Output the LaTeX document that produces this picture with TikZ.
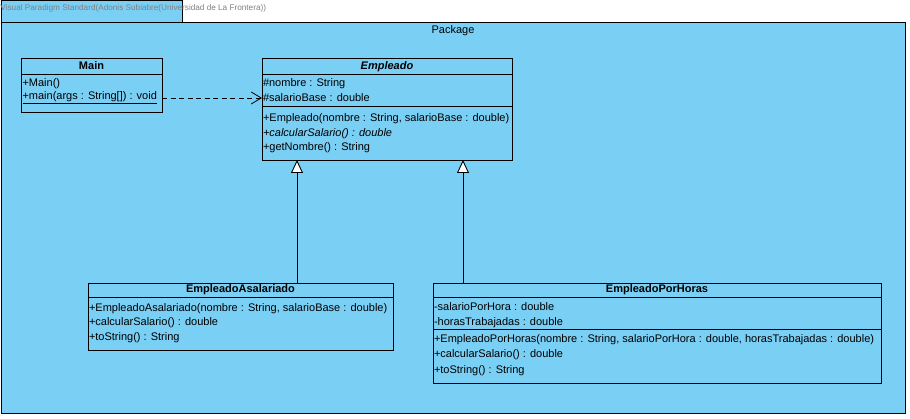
\documentclass[tikz,border=0pt]{standalone}
\usepackage{fontspec}
\setmainfont{Liberation Sans}
\usetikzlibrary{arrows.meta}
\definecolor{pkgblue}{RGB}{122,207,245}
\definecolor{wmgray}{RGB}{128,128,128}
\begin{document}
\begin{tikzpicture}[x=1pt,y=-1pt,
  every node/.style={inner sep=0pt,outer sep=0pt,font=\fontsize{11}{13}\selectfont},
  cls/.style={draw=black,line width=0.9pt,fill=pkgblue,anchor=north west},
  sepline/.style={draw=black,line width=0.9pt},
  member/.style={anchor=base west},
  title/.style={anchor=base,font=\fontsize{11}{13}\selectfont\bfseries},
  dep/.style={draw=black,line width=0.8pt,dash pattern=on 5pt off 3.5pt,-{Straight Barb[length=10pt,width=12pt]}},
  inh/.style={draw=black,line width=0.9pt,-{Triangle[open,length=13pt,width=12pt,fill=white]}}
]
\useasboundingbox (0,0) rectangle (910,419);
% package
\node[draw=black,line width=0.9pt,fill=pkgblue,anchor=north west,minimum width=181pt,minimum height=22pt] (tab) at (1,0) {};
\node[draw=black,line width=0.9pt,fill=pkgblue,anchor=north west,minimum width=904.5pt,minimum height=391.5pt] (pkg) at (1,22) {};
\node[anchor=base west,text=wmgray,font=\fontsize{8.2}{9}\selectfont] (wm) at (0.5,11) {Visual Paradigm Standard(Adonis Subiabre(Universidad de La Frontera))};
\node[anchor=base] (pkglabel) at (453,34) {Package};

% Main
\node[cls,minimum width=141pt,minimum height=53.5pt] (main) at (21,58.5) {};
\draw[sepline] (21,74) -- (162,74);
\node[title] (mainT) at (91.5,70) {Main};
\node[member] (m1) at (22.5,86.5) {+Main()};
\node[member] (m2) at (22.5,100) {\underline{+main(args : String[]) : void}};

% Empleado
\node[cls,minimum width=250pt,minimum height=101.5pt] (emp) at (262,58.5) {};
\draw[sepline] (262,74) -- (512,74);
\draw[sepline] (262,106) -- (512,106);
\node[title,font=\fontsize{11}{13}\selectfont\bfseries\itshape] (empT) at (387,70) {Empleado};
\node[member] (e1) at (263,87) {\#nombre : String};
\node[member] (e2) at (263,102) {\#salarioBase : double};
\node[member] (e3) at (263,122) {+Empleado(nombre : String, salarioBase : double)};
\node[member] (e4) at (263,136.5) {\itshape +calcularSalario() : double};
\node[member] (e5) at (263,151) {+getNombre() : String};

% EmpleadoAsalariado
\node[cls,minimum width=305pt,minimum height=67pt] (asal) at (88,283) {};
\draw[sepline] (88,297) -- (393,297);
\node[title] (asalT) at (240.5,293) {EmpleadoAsalariado};
\node[member] (a1) at (89,311.5) {+EmpleadoAsalariado(nombre : String, salarioBase : double)};
\node[member] (a2) at (89,326) {+calcularSalario() : double};
\node[member] (a3) at (89,340.5) {+toString() : String};

% EmpleadoPorHoras
\node[cls,minimum width=448pt,minimum height=100.5pt] (horas) at (433,283) {};
\draw[sepline] (433,297) -- (881,297);
\draw[sepline] (433,329.5) -- (881,329.5);
\node[title] (horasT) at (657,293) {EmpleadoPorHoras};
\node[member] (h1) at (434,311) {-salarioPorHora : double};
\node[member] (h2) at (434,325.5) {-horasTrabajadas : double};
\node[member] (h3) at (434,343) {+EmpleadoPorHoras(nombre : String, salarioPorHora : double, horasTrabajadas : double)};
\node[member] (h4) at (434,358) {+calcularSalario() : double};
\node[member] (h5) at (434,373.5) {+toString() : String};

% connectors
\coordinate (dy) at (0,98);
\coordinate (g1) at (297,0);
\coordinate (g2) at (463,0);
\draw[dep] (main.east |- dy) -- (emp.west |- dy);
\draw[inh] (asal.north -| g1) -- (emp.south -| g1);
\draw[inh] (horas.north -| g2) -- (emp.south -| g2);
\end{tikzpicture}
\end{document}
